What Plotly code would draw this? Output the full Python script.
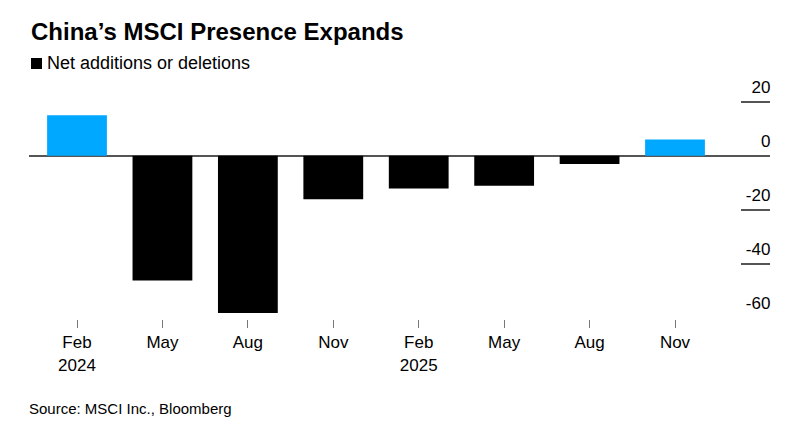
import plotly.graph_objects as go

categories = ["Feb 2024", "May 2024", "Aug 2024", "Nov 2024", "Feb 2025", "May 2025", "Aug 2025", "Nov 2025"]
tick_labels = ["Feb<br>2024", "May", "Aug", "Nov", "Feb<br>2025", "May", "Aug", "Nov"]
net_changes = [15, -46, -58, -16, -12, -11, -3, 6]

POS_COLOR = "#00A9FF"
NEG_COLOR = "#000000"
colors = [POS_COLOR if v > 0 else NEG_COLOR for v in net_changes]

FONT = "Liberation Sans, Arial, sans-serif"

W, H = 805, 432
ML, MR, MT, MB = 29, 35, 80, 113
plot_w = W - ML - MR
plot_h = H - MT - MB


def px_x(px):
    return (px - ML) / plot_w


def px_y(py):
    return (H - MB - py) / plot_h


fig = go.Figure()
fig.add_trace(go.Bar(
    x=categories,
    y=net_changes,
    marker=dict(color=colors, line=dict(width=0)),
    width=0.70,
    showlegend=False,
    hoverinfo="x+y",
))

fig.update_layout(
    width=W,
    height=H,
    margin=dict(l=ML, r=MR, t=MT, b=MB, autoexpand=False),
    paper_bgcolor="white",
    plot_bgcolor="white",
    font=dict(family=FONT, color="#000000"),
    xaxis=dict(
        type="category",
        tickmode="array",
        tickvals=categories,
        ticktext=tick_labels,
        range=[-0.562, 8.112],
        ticks="outside",
        ticklen=8,
        tickwidth=1,
        tickcolor="#777777",
        showgrid=False,
        showline=False,
        zeroline=False,
        automargin=False,
        tickfont=dict(size=17, family=FONT, color="#000000"),
        fixedrange=True,
    ),
    yaxis=dict(
        side="right",
        range=[-60.2, 28],
        tickmode="array",
        tickvals=[20, 0, -20, -40, -60],
        ticktext=["20", "0", "-20", "-40", "-60"],
        ticks="inside",
        ticklen=29,
        tickwidth=1.5,
        tickcolor="#555555",
        ticklabelposition="inside",
        ticklabelshift=-15,
        ticklabelstandoff=-29,
        ticklabeloverflow="allow",
        showgrid=False,
        showline=False,
        zeroline=True,
        zerolinecolor="#555555",
        zerolinewidth=1.5,
        automargin=False,
        tickfont=dict(size=17, family=FONT, color="#000000"),
        fixedrange=True,
    ),
    shapes=[
        dict(
            type="rect", xref="paper", yref="paper",
            x0=px_x(31), x1=px_x(42), y0=px_y(69), y1=px_y(58),
            fillcolor="#000000", line=dict(width=0),
        )
    ],
    annotations=[
        dict(
            text="<b>China’s MSCI Presence Expands</b>",
            x=px_x(29), y=px_y(32), xref="paper", yref="paper",
            showarrow=False,
            xanchor="left", yanchor="middle",
            font=dict(size=24, family=FONT, color="#000000"),
        ),
        dict(
            text="Net additions or deletions",
            x=px_x(45), y=px_y(63), xref="paper", yref="paper",
            showarrow=False,
            xanchor="left", yanchor="middle",
            font=dict(size=18, family=FONT, color="#000000"),
        ),
        dict(
            text="Source: MSCI Inc., Bloomberg",
            x=px_x(27), y=px_y(408), xref="paper", yref="paper",
            showarrow=False,
            xanchor="left", yanchor="middle",
            font=dict(size=15, family=FONT, color="#000000"),
        ),
    ],
)

fig.write_html(
    "out.html",
    config={"displayModeBar": False},
    post_script="document.body.style.margin='0';document.body.style.padding='0';",
)
